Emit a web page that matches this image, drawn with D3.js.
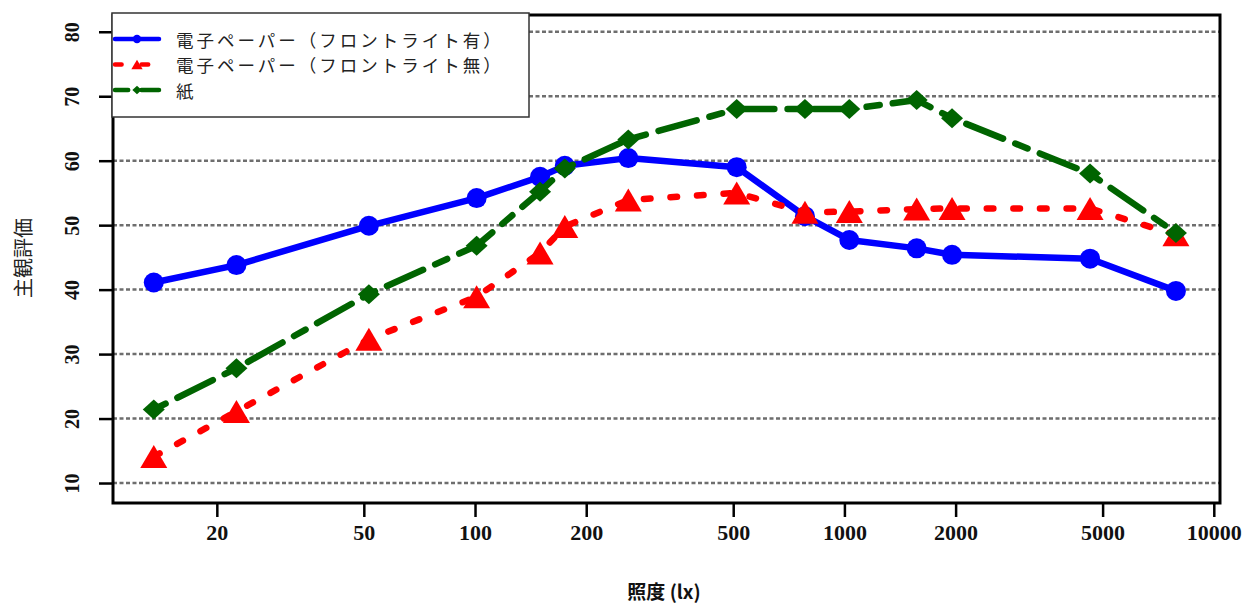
<!DOCTYPE html>
<html><head><meta charset="utf-8">
<script src="https://cdn.jsdelivr.net/npm/d3@7/dist/d3.min.js"></script>
<style>html,body{margin:0;padding:0;background:#fff;}svg{display:block;}</style>
</head><body>
<script>
// ---- data ----
const lux = [13.5, 22.6, 51.6, 101, 150, 175, 260, 511, 782, 1031, 1569, 1956, 4624, 7897];
const withLight = [41.1, 43.8, 49.9, 54.2, 57.5, 59.2, 60.4, 59.0, 51.4, 47.7, 46.4, 45.4, 44.8, 39.8];
const withoutLight = [14.1, 21.1, 32.3, 38.9, 45.7, 49.8, 53.9, 55.0, 52.0, 52.1, 52.5, 52.6, 52.6, 48.5];
const paper = [21.4, 27.8, 39.3, 46.8, 55.2, 58.8, 63.3, 68.0, 68.0, 68.0, 69.4, 66.6, 58.0, 48.8];
const seriesNames = ["電子ペーパー（フロントライト有）", "電子ペーパー（フロントライト無）", "紙"];
const xTicks = [20, 50, 100, 200, 500, 1000, 2000, 5000, 10000];
const yTicks = [10, 20, 30, 40, 50, 60, 70, 80];
const xTitle = "照度 (lx)";
const yTitle = "主観評価";

const W = 1244, H = 604;
const M = {left: 113, right: 1220, top: 15, bottom: 503};
const svg = d3.select("body").append("svg").attr("width", W).attr("height", H);

const x = d3.scaleLog().domain([10.47, 10394]).range([M.left, M.right]);
const y = d3.scaleLinear().domain([6.9, 82.6]).range([M.bottom, M.top]);

const numFont = "'Liberation Serif', 'DejaVu Serif', serif";
const cjkFont = "'Noto Sans CJK JP', sans-serif";

// grid
svg.append("g").selectAll("line").data(yTicks).join("line")
  .attr("x1", M.left).attr("x2", M.right)
  .attr("y1", d => y(d)).attr("y2", d => y(d))
  .attr("stroke", "#6e6e6e").attr("stroke-width", 2.5).attr("stroke-dasharray", "4 2.5");

// x axis
const xAxis = d3.axisBottom(x).tickValues(xTicks).tickFormat(d3.format("d")).tickSize(14).tickPadding(12);
const gx = svg.append("g").attr("transform", `translate(0,${M.bottom})`).call(xAxis);
gx.select(".domain").remove();
gx.selectAll(".tick line").attr("stroke", "#000").attr("stroke-width", 2.5);
gx.selectAll(".tick text").attr("font-family", numFont).attr("font-weight", "bold")
  .attr("font-size", 22).attr("fill", "#111").attr("dy", "0.5em");

// y axis
const yAxis = d3.axisLeft(y).tickValues(yTicks).tickFormat(d3.format("d")).tickSize(14).tickPadding(0);
const gy = svg.append("g").attr("transform", `translate(${M.left},0)`).call(yAxis);
gy.select(".domain").remove();
gy.selectAll(".tick line").attr("stroke", "#000").attr("stroke-width", 2.5);
gy.selectAll(".tick text")
  .attr("font-family", numFont).attr("font-weight", "bold").attr("font-size", 20).attr("fill", "#111")
  .attr("x", null).attr("dy", null)
  .attr("text-anchor", "middle").attr("dominant-baseline", "central")
  .attr("transform", "translate(-41,0) rotate(-90)");

// box
svg.append("rect").attr("x", M.left).attr("y", M.top)
  .attr("width", M.right - M.left).attr("height", M.bottom - M.top)
  .attr("fill", "none").attr("stroke", "#000").attr("stroke-width", 3);

// titles
svg.append("text").attr("x", 664).attr("y", 590).attr("text-anchor", "middle")
  .attr("dominant-baseline", "central")
  .attr("font-family", cjkFont).attr("font-weight", "bold").attr("font-size", 19).attr("fill", "#111")
  .text(xTitle);
svg.append("text").attr("transform", "translate(22,258) rotate(-90)").attr("text-anchor", "middle")
  .attr("dominant-baseline", "central")
  .attr("font-family", cjkFont).attr("font-size", 20).attr("fill", "#222")
  .text(yTitle);

// series
const series = [
  {name: seriesNames[0], vals: withLight, color: "#0000ff", dash: null, marker: "circle"},
  {name: seriesNames[1], vals: withoutLight, color: "#ff0000", dash: "6.6 20", marker: "triangle"},
  {name: seriesNames[2], vals: paper, color: "#006400", dash: "13.2 13.2 39.6 13.2", marker: "diamond"}
];

function markerPath(type, s) {
  if (type === "circle") {
    const r = 10 * s;
    return `M${-r},0A${r},${r} 0 1,0 ${r},0A${r},${r} 0 1,0 ${-r},0Z`;
  }
  if (type === "triangle") {
    const w = 13.5 * s, h = 11.5 * s;
    return `M0,${-h}L${w},${h}L${-w},${h}Z`;
  }
  const a = 11 * s, b = 10 * s;
  return `M0,${-b}L${a},0L0,${b}L${-a},0Z`;
}

const line = d3.line().x(d => x(d[0])).y(d => y(d[1]));
series.forEach(s => {
  const pts = lux.map((l, i) => [l, s.vals[i]]);
  svg.append("path").datum(pts).attr("d", line)
    .attr("fill", "none").attr("stroke", s.color).attr("stroke-width", 6.5)
    .attr("stroke-linecap", "round").attr("stroke-linejoin", "round")
    .attr("stroke-dasharray", s.dash);
  svg.append("g").selectAll("path").data(pts).join("path")
    .attr("transform", d => `translate(${x(d[0])},${y(d[1])})`)
    .attr("d", markerPath(s.marker, 1)).attr("fill", s.color);
});

// legend
const lg = svg.append("g");
lg.append("rect").attr("x", 112).attr("y", 13).attr("width", 417).attr("height", 104)
  .attr("fill", "#fff").attr("stroke", "#333").attr("stroke-width", 1.5);
const rowY = [39, 64.5, 90];
series.forEach((s, i) => {
  const yy = rowY[i];
  lg.append("line").attr("x1", 115).attr("x2", 159).attr("y1", yy).attr("y2", yy)
    .attr("stroke", s.color).attr("stroke-width", 4.5).attr("stroke-linecap", "round")
    .attr("stroke-dasharray", s.dash);
  lg.append("path").attr("transform", `translate(137,${yy})`)
    .attr("d", markerPath(s.marker, 0.42)).attr("fill", s.color);
  lg.append("text").attr("x", 176).attr("y", yy).attr("dominant-baseline", "central")
    .attr("font-family", cjkFont).attr("font-size", 17.5).attr("letter-spacing", 3)
    .attr("fill", "#222")
    .text(s.name);
});
</script>
</body></html>
